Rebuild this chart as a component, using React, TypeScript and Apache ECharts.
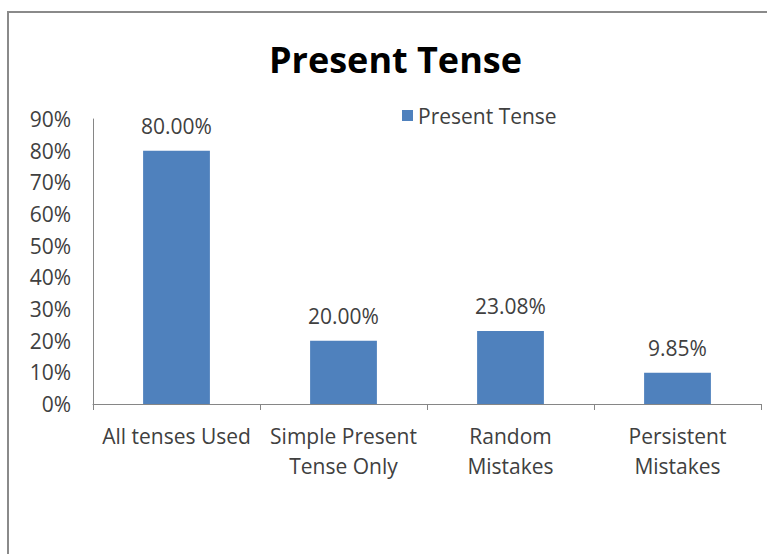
import React, { useEffect, useRef } from "react";
import * as echarts from "echarts";

const categories = ["All tenses Used", "Simple Present\nTense Only", "Random\nMistakes", "Persistent\nMistakes"];
const values = [80.0, 20.0, 23.08, 9.85];
const seriesName = "Present Tense";
const titleText = "Present Tense";

export default function App() {
  const ref = useRef<HTMLDivElement>(null);
  useEffect(() => {
    if (!ref.current) return;
    const chart = echarts.init(ref.current, null, { renderer: "svg" });
    const font = "Open Sans";
    chart.setOption({
      animation: false,
      backgroundColor: "#ffffff",
      title: {
        text: titleText,
        left: 264,
        top: 36,
        textStyle: { fontFamily: font, fontWeight: "bold", fontSize: 36, color: "#000000" },
      },
      legend: {
        data: [seriesName],
        left: 397,
        top: 100,
        itemWidth: 11,
        itemHeight: 11,
        icon: "rect",
        textStyle: { fontFamily: font, fontSize: 21, color: "#404040" },
      },
      grid: { left: 93, right: 6, top: 119, bottom: 150 },
      xAxis: {
        type: "category",
        data: categories,
        axisLine: { lineStyle: { color: "#868686", width: 1 } },
        axisTick: { show: true, length: 6, lineStyle: { color: "#868686" } },
        axisLabel: {
          fontFamily: font,
          fontSize: 21,
          color: "#404040",
          lineHeight: 30,
          margin: 17,
          interval: 0,
        },
      },
      yAxis: {
        type: "value",
        min: 0,
        max: 90,
        interval: 10,
        splitLine: { show: false },
        axisLine: { show: true, lineStyle: { color: "#868686", width: 1 } },
        axisTick: { show: false },
        axisLabel: {
          fontFamily: font,
          fontSize: 21,
          color: "#404040",
          margin: 22,
          formatter: (v: number) => v + "%",
        },
      },
      series: [
        {
          name: seriesName,
          type: "bar",
          data: values,
          barWidth: "40%",
          itemStyle: { color: "#4F81BD" },
          label: {
            show: true,
            position: "top",
            distance: 14,
            fontFamily: font,
            fontSize: 21,
            color: "#404040",
            formatter: (p: any) => p.value.toFixed(2) + "%",
          },
        },
      ],
      graphic: [
        {
          type: "rect",
          shape: { x: 8, y: 12, width: 800, height: 600 },
          style: { fill: "none", stroke: "#8a8a8a", lineWidth: 2 },
          silent: true,
        },
      ],
    });
    return () => chart.dispose();
  }, []);
  return (
    <div
      ref={ref}
      style={{ position: "fixed", left: 0, top: 0, width: 767, height: 554 }}
    />
  );
}
